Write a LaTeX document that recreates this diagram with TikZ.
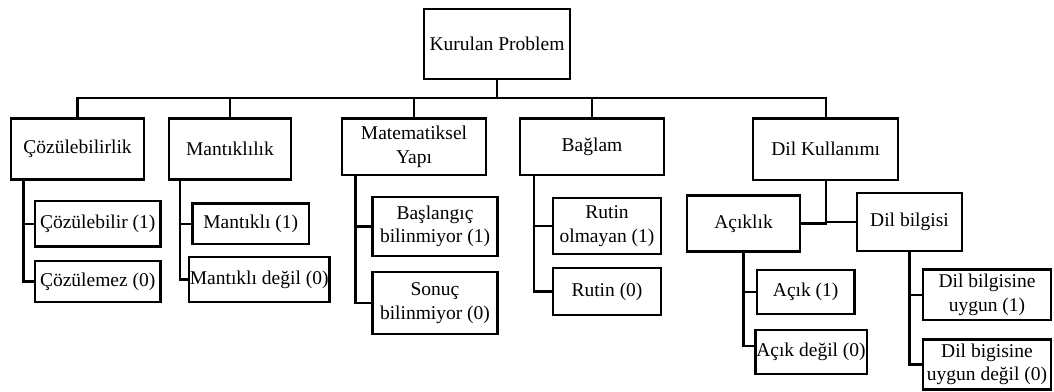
\documentclass[tikz,border=0pt]{standalone}
\usepackage{fontspec}
\setmainfont{Liberation Serif}
\usepackage{tikz}

\begin{document}
\begin{tikzpicture}[
  x=1pt, y=-1pt,
  font=\fontsize{19.5}{23.5}\selectfont,
  every node/.style={align=center},
  box/.style={draw, line width=2.4pt, inner sep=1pt},
  link/.style={line width=2.4pt}
]
\useasboundingbox (0,0) rectangle (1054,391);

% root and bus
\node[box, minimum width=146pt, minimum height=70pt] (root) at (497,44) {Kurulan Problem};
\coordinate (bus) at (497,98);

% criteria
\node[box, minimum width=133pt, minimum height=61pt] (cozul) at (77.5,149) {Çözülebilirlik};
\node[box, minimum width=122pt, minimum height=61pt] (mantik) at (230,149) {Mantıklılık};
\node[box, minimum width=144pt, minimum height=56.5pt] (matyap) at (414,146.7) {Matematiksel\\Yapı};
\node[box, minimum width=144pt, minimum height=56.5pt] (baglam) at (592,146.7) {Bağlam};
\node[box, minimum width=145pt, minimum height=61.5pt] (dilkul) at (825.7,149.3) {Dil Kullanımı};

% levels
\node[box, minimum width=125.5pt, minimum height=45.5pt] (cozb) at (97.7,223.7) {Çözülebilir (1)};
\node[box, minimum width=125.5pt, minimum height=41pt] (cozm) at (97.7,281.5) {Çözülemez (0)};
\node[box, minimum width=116.4pt, minimum height=40.5pt] (mant1) at (250.8,223.7) {Mantıklı (1)};
\node[box, minimum width=139.5pt, minimum height=45pt] (mant0) at (259.2,279.5) {Mantıklı değil (0)};
\node[box, minimum width=125pt, minimum height=59pt] (yapi1) at (435,226.5) {Başlangıç\\bilinmiyor (1)};
\node[box, minimum width=125pt, minimum height=62pt] (yapi0) at (435,303) {Sonuç\\bilinmiyor (0)};
\node[box, minimum width=108pt, minimum height=55.6pt] (bag1) at (607,226) {Rutin\\olmayan (1)};
\node[box, minimum width=108pt, minimum height=46.7pt] (bag0) at (607,291.4) {Rutin (0)};

% language use
\node[box, minimum width=113pt, minimum height=56pt] (acik) at (743.5,223.5) {Açıklık};
\node[box, minimum width=105pt, minimum height=58pt] (dilbil) at (909.5,222) {Dil bilgisi};
\node[box, minimum width=97.5pt, minimum height=43.5pt] (acik1) at (805.7,292) {Açık (1)};
\node[box, minimum width=108pt, minimum height=44pt] (acik0) at (811,352) {Açık değil (0)};
\node[box, minimum width=128pt, minimum height=50.5pt] (dil1) at (987,294.7) {Dil bilgisine\\uygun (1)};
\node[box, minimum width=128pt, minimum height=50pt] (dil0) at (987,364.5) {Dil bigisine\\uygun değil (0)};

% connectors
\foreach \n in {cozul,mantik,matyap,baglam,dilkul}
  \draw[link] (root.south) -- (root.south |- bus) -| (\n.north);

\draw[link] (cozul.south west) ++(13.6,0) |- (cozb.west);
\draw[link] (cozul.south west) ++(13.6,0) |- (cozm.west);
\draw[link] (mantik.south west) ++(12,0) |- (mant1.west);
\draw[link] (mantik.south west) ++(12,0) |- (mant0.west);
\draw[link] (matyap.south west) ++(14.7,0) |- (yapi1.west);
\draw[link] (matyap.south west) ++(14.7,0) |- (yapi0.west);
\draw[link] (baglam.south west) ++(15,0) |- (bag1.west);
\draw[link] (baglam.south west) ++(15,0) |- (bag0.west);

\draw[link] (dilkul.south) |- (acik.east);
\draw[link] (dilkul.south) |- (dilbil.west);
\draw[link] (acik.south) |- (acik1.west);
\draw[link] (acik.south) |- ([yshift=6pt]acik0.west);
\draw[link] (dilbil.south) |- (dil1.west);
\draw[link] (dilbil.south) |- (dil0.west);
\end{tikzpicture}
\end{document}
